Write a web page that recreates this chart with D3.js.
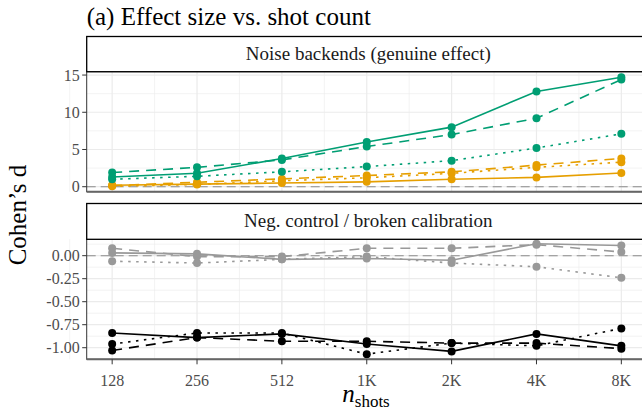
<!DOCTYPE html>
<meta charset="utf-8">
<style>
body { margin: 0; background: #fff; }
svg { display: block; font-family: 'Liberation Serif', serif; }
.tick-label { font-size: 16px; fill: #4d4d4d; }
.strip-label { font-size: 19px; fill: #1a1a1a; }
.title { font-size: 25px; fill: #000; }
.axis-title { font-size: 25px; fill: #000; }
</style>
<body>
<script src="https://cdn.jsdelivr.net/npm/d3@7"></script>
<script>
// ---- data ----
var shots = [128, 256, 512, 1024, 2048, 4096, 8192];
var shotLabels = ["128", "256", "512", "1K", "2K", "4K", "8K"];

var noiseGreenSolid  = [1.3, 1.8, 3.8, 6.0, 8.0, 12.8, 14.7];
var noiseGreenDashed = [1.9, 2.6, 3.6, 5.4, 7.0, 9.2, 14.4];
var noiseGreenDotted = [1.0, 1.4, 2.0, 2.7, 3.5, 5.2, 7.1];
var noiseOrangeSolid  = [0.2, 0.35, 0.5, 0.65, 1.0, 1.25, 1.85];
var noiseOrangeDashed = [0.15, 0.6, 1.05, 1.5, 2.0, 2.9, 3.8];
var noiseOrangeDotted = [0.05, 0.3, 0.8, 1.2, 1.8, 2.6, 3.3];

var negGraySolid  = [0.03, 0.02, -0.04, -0.03, -0.05, 0.13, 0.11];
var negGrayDashed = [0.08, -0.01, -0.01, 0.08, 0.08, 0.12, 0.04];
var negGrayDotted = [-0.06, -0.08, -0.04, -0.01, -0.08, -0.12, -0.24];
var negBlackSolid  = [-0.84, -0.89, -0.85, -0.96, -1.04, -0.85, -0.98];
var negBlackDashed = [-1.03, -0.89, -0.93, -0.93, -0.95, -0.95, -1.01];
var negBlackDotted = [-0.96, -0.84, -0.84, -1.07, -0.95, -0.98, -0.79];

var topTicks = [0, 5, 10, 15];
var topTickLabels = ["0", "5", "10", "15"];
var bottomTicks = [0, -0.25, -0.5, -0.75, -1];
var bottomTickLabels = ["0.00", "-0.25", "-0.50", "-0.75", "-1.00"];

// ---- styles ----
var GREEN = "#009e73", ORANGE = "#e69f00", GRAY = "#999999", BLACK = "#000000";
var DASH = { solid: null, dashed: "10,7", dotted: "2.5,5.5" };

var panels = [
  {
    strip: "Noise backends (genuine effect)",
    stripTop: 36.5, top: 71.7, bottom: 191.7,
    domain: [-0.67, 15.45],
    ticks: topTicks, tickLabels: topTickLabels,
    minor: [2.5, 7.5, 12.5],
    series: [
      { v: noiseOrangeDotted, c: ORANGE, d: "dotted" },
      { v: noiseOrangeDashed, c: ORANGE, d: "dashed" },
      { v: noiseOrangeSolid,  c: ORANGE, d: "solid" },
      { v: noiseGreenDotted,  c: GREEN,  d: "dotted" },
      { v: noiseGreenDashed,  c: GREEN,  d: "dashed" },
      { v: noiseGreenSolid,   c: GREEN,  d: "solid" }
    ]
  },
  {
    strip: "Neg. control / broken calibration",
    stripTop: 203.5, top: 239.3, bottom: 359.3,
    domain: [-1.126, 0.178],
    ticks: bottomTicks, tickLabels: bottomTickLabels,
    minor: [0.125, -0.125, -0.375, -0.625, -0.875],
    series: [
      { v: negGrayDotted,  c: GRAY,  d: "dotted" },
      { v: negGrayDashed,  c: GRAY,  d: "dashed" },
      { v: negGraySolid,   c: GRAY,  d: "solid" },
      { v: negBlackDotted, c: BLACK, d: "dotted" },
      { v: negBlackDashed, c: BLACK, d: "dashed" },
      { v: negBlackSolid,  c: BLACK, d: "solid" }
    ]
  }
];

var left = 86.7, right = 646.8;

var svg = d3.select("body").append("svg")
  .attr("width", 642)
  .attr("height", 420);

var x = d3.scaleLog().base(2)
  .domain([Math.pow(2, 6.7), Math.pow(2, 13.3)])
  .range([left, right]);

var xMinor = d3.range(6.5, 14, 1).map(function(e) { return Math.pow(2, e); });

panels.forEach(function(p) {
  var y = d3.scaleLinear().domain(p.domain).range([p.bottom, p.top]);
  var g = svg.append("g");

  // grid
  g.selectAll(".xminor").data(xMinor).enter().append("line")
    .attr("x1", function(d) { return x(d); }).attr("x2", function(d) { return x(d); })
    .attr("y1", p.top).attr("y2", p.bottom)
    .attr("stroke", "#ebebeb").attr("stroke-width", 0.6);
  g.selectAll(".yminor").data(p.minor).enter().append("line")
    .attr("x1", left).attr("x2", right)
    .attr("y1", function(d) { return y(d); }).attr("y2", function(d) { return y(d); })
    .attr("stroke", "#ebebeb").attr("stroke-width", 0.6);
  g.selectAll(".xmajor").data(shots).enter().append("line")
    .attr("x1", function(d) { return x(d); }).attr("x2", function(d) { return x(d); })
    .attr("y1", p.top).attr("y2", p.bottom)
    .attr("stroke", "#ebebeb").attr("stroke-width", 1.2);
  g.selectAll(".ymajor").data(p.ticks).enter().append("line")
    .attr("x1", left).attr("x2", right)
    .attr("y1", function(d) { return y(d); }).attr("y2", function(d) { return y(d); })
    .attr("stroke", "#ebebeb").attr("stroke-width", 1.2);

  // zero reference
  g.append("line")
    .attr("x1", left).attr("x2", right)
    .attr("y1", y(0)).attr("y2", y(0))
    .attr("stroke", "#8c8c8c").attr("stroke-width", 1.1)
    .attr("stroke-dasharray", "9,5");

  var line = d3.line()
    .x(function(d, i) { return x(shots[i]); })
    .y(function(d) { return y(d); });

  p.series.forEach(function(s) {
    g.append("path")
      .datum(s.v)
      .attr("d", line)
      .attr("fill", "none")
      .attr("stroke", s.c)
      .attr("stroke-width", 1.6)
      .attr("stroke-dasharray", DASH[s.d]);
  });
  p.series.forEach(function(s) {
    g.selectAll(null).data(s.v).enter().append("circle")
      .attr("cx", function(d, i) { return x(shots[i]); })
      .attr("cy", function(d) { return y(d); })
      .attr("r", 4)
      .attr("fill", s.c);
  });

  // panel border
  g.append("rect")
    .attr("x", left).attr("y", p.top)
    .attr("width", right - left).attr("height", p.bottom - p.top)
    .attr("fill", "none").attr("stroke", "#333").attr("stroke-width", 1);
  g.append("line")
    .attr("x1", left).attr("x2", right)
    .attr("y1", p.bottom).attr("y2", p.bottom)
    .attr("stroke", "#666").attr("stroke-width", 2);

  // strip
  g.append("rect")
    .attr("x", left).attr("y", p.stripTop)
    .attr("width", right - left).attr("height", p.top - p.stripTop)
    .attr("fill", "#fff").attr("stroke", "#000").attr("stroke-width", 1.3);
  g.append("text")
    .attr("class", "strip-label")
    .attr("x", (left + 642) / 2 + 4)
    .attr("y", (p.stripTop + p.top) / 2 + 6)
    .attr("text-anchor", "middle")
    .text(p.strip);

  // y axis
  g.selectAll(".ytick").data(p.ticks).enter().append("line")
    .attr("x1", left - 4.5).attr("x2", left)
    .attr("y1", function(d) { return y(d); }).attr("y2", function(d) { return y(d); })
    .attr("stroke", "#333").attr("stroke-width", 1);
  g.selectAll(".ylab").data(p.ticks).enter().append("text")
    .attr("class", "tick-label")
    .attr("x", left - 7)
    .attr("y", function(d) { return y(d) + 5.5; })
    .attr("text-anchor", "end")
    .text(function(d, i) { return p.tickLabels[i]; });

  p.y = y;
});

// x axis on bottom panel
var bottom = panels[1].bottom;
svg.selectAll(".xtick").data(shots).enter().append("line")
  .attr("x1", function(d) { return x(d); }).attr("x2", function(d) { return x(d); })
  .attr("y1", bottom).attr("y2", bottom + 5)
  .attr("stroke", "#333").attr("stroke-width", 1);
svg.selectAll(".xlab").data(shots).enter().append("text")
  .attr("class", "tick-label")
  .attr("x", function(d) { return x(d); })
  .attr("y", bottom + 27)
  .attr("text-anchor", "middle")
  .text(function(d, i) { return shotLabels[i]; });

// titles
svg.append("text")
  .attr("class", "title")
  .attr("x", left)
  .attr("y", 25)
  .text("(a) Effect size vs. shot count");

var xt = svg.append("text")
  .attr("class", "axis-title")
  .attr("x", 366)
  .attr("y", 402)
  .attr("text-anchor", "middle");
xt.append("tspan").attr("font-style", "italic").text("n");
xt.append("tspan").attr("font-size", "17px").attr("dy", 5).text("shots");

svg.append("text")
  .attr("class", "axis-title")
  .attr("transform", "translate(26,215) rotate(-90)")
  .attr("text-anchor", "middle")
  .text("Cohen\u2019s d");
</script>
</body>
